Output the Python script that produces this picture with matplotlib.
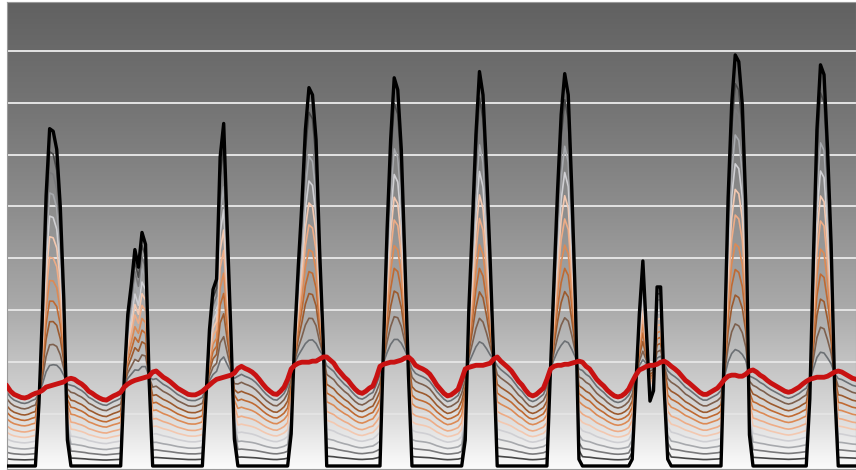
import numpy as np
import matplotlib
matplotlib.use("Agg")
import matplotlib.pyplot as plt
from matplotlib.colors import LinearSegmentedColormap

# hourly values, 10 days x 24 h
red_days = [
    [1.54, 1.44, 1.38, 1.35, 1.32, 1.31, 1.33, 1.37, 1.40, 1.42, 1.46, 1.52, 1.54, 1.56, 1.58, 1.60, 1.62, 1.67, 1.69, 1.67, 1.62, 1.58, 1.52, 1.44],
    [1.40, 1.35, 1.31, 1.28, 1.27, 1.31, 1.35, 1.38, 1.42, 1.52, 1.58, 1.62, 1.65, 1.67, 1.69, 1.71, 1.73, 1.81, 1.83, 1.77, 1.71, 1.67, 1.62, 1.56],
    [1.50, 1.46, 1.42, 1.38, 1.37, 1.37, 1.40, 1.44, 1.50, 1.56, 1.62, 1.67, 1.69, 1.71, 1.73, 1.75, 1.79, 1.88, 1.92, 1.88, 1.85, 1.81, 1.75, 1.67],
    [1.58, 1.50, 1.44, 1.39, 1.38, 1.44, 1.52, 1.67, 1.87, 1.94, 1.98, 2.00, 2.00, 2.00, 2.02, 2.02, 2.06, 2.10, 2.10, 2.04, 1.98, 1.87, 1.79, 1.71],
    [1.65, 1.56, 1.48, 1.42, 1.40, 1.44, 1.50, 1.54, 1.71, 1.92, 1.96, 1.98, 2.00, 2.00, 2.02, 2.04, 2.08, 2.10, 2.04, 1.94, 1.90, 1.87, 1.83, 1.77],
    [1.67, 1.56, 1.48, 1.40, 1.35, 1.37, 1.42, 1.48, 1.67, 1.87, 1.90, 1.92, 1.94, 1.94, 1.94, 1.96, 1.98, 2.06, 2.10, 2.02, 1.96, 1.90, 1.83, 1.73],
    [1.63, 1.56, 1.46, 1.38, 1.35, 1.38, 1.44, 1.50, 1.67, 1.87, 1.92, 1.94, 1.94, 1.96, 1.96, 1.98, 2.00, 2.02, 2.00, 1.92, 1.87, 1.77, 1.67, 1.60],
    [1.54, 1.46, 1.40, 1.35, 1.33, 1.35, 1.40, 1.48, 1.62, 1.75, 1.85, 1.88, 1.92, 1.94, 1.94, 1.96, 2.00, 2.02, 1.98, 1.92, 1.87, 1.81, 1.73, 1.65],
    [1.60, 1.54, 1.48, 1.42, 1.38, 1.38, 1.42, 1.46, 1.50, 1.58, 1.67, 1.73, 1.75, 1.75, 1.73, 1.73, 1.77, 1.83, 1.85, 1.81, 1.75, 1.71, 1.65, 1.60],
    [1.56, 1.52, 1.48, 1.44, 1.42, 1.44, 1.48, 1.52, 1.58, 1.63, 1.67, 1.69, 1.71, 1.71, 1.71, 1.73, 1.77, 1.81, 1.83, 1.81, 1.77, 1.73, 1.69, 1.67],
]

black_days = [
    [0, 0, 0, 0, 0, 0, 0, 0, 0, 1.20, 3.00, 5.20, 6.50, 6.45, 6.10, 5.00, 3.20, 0.50, 0, 0, 0, 0, 0, 0],
    [0, 0, 0, 0, 0, 0, 0, 0, 0, 1.67, 2.92, 3.50, 4.17, 3.83, 4.50, 4.27, 1.67, 0, 0, 0, 0, 0, 0, 0],
    [0, 0, 0, 0, 0, 0, 0, 0, 1.29, 2.63, 3.40, 3.60, 5.95, 6.60, 4.56, 2.63, 0.52, 0, 0, 0, 0, 0, 0, 0],
    [0, 0, 0, 0, 0, 0, 0, 0, 0.62, 2.50, 3.85, 5.04, 6.48, 7.29, 7.15, 6.29, 4.17, 2.44, 0, 0, 0, 0, 0, 0],
    [0, 0, 0, 0, 0, 0, 0, 0, 0, 0, 2.35, 4.56, 6.29, 7.48, 7.25, 6.10, 4.00, 1.77, 0, 0, 0, 0, 0, 0],
    [0, 0, 0, 0, 0, 0, 0, 0, 0, 0.50, 3.00, 4.65, 6.38, 7.60, 7.15, 5.70, 4.00, 2.06, 0, 0, 0, 0, 0, 0],
    [0, 0, 0, 0, 0, 0, 0, 0, 0, 1.87, 3.60, 5.33, 6.77, 7.56, 7.15, 5.33, 3.20, 0.13, 0, 0, 0, 0, 0, 0],
    [0, 0, 0, 0, 0, 0, 0, 0, 0.13, 1.54, 2.92, 3.95, 2.60, 1.25, 1.45, 3.45, 3.45, 1.48, 0.13, 0, 0, 0, 0, 0],
    [0, 0, 0, 0, 0, 0, 0, 0, 0, 0, 2.44, 5.17, 6.96, 7.92, 7.79, 6.96, 5.00, 0.60, 0, 0, 0, 0, 0, 0],
    [0, 0, 0, 0, 0, 0, 0, 0, 0, 0, 1.29, 4.00, 6.48, 7.73, 7.54, 6.10, 4.27, 1.48, 0, 0, 0, 0, 0, 0],
]

# share of the way from the red curve to the black curve, one per line
levels = [0.08, 0.16, 0.25, 0.33, 0.41, 0.50, 0.58, 0.66, 0.75, 0.83, 0.91]
level_colors = ["#6c7074", "#7d604e", "#9c5a2e", "#c06a32", "#dc8a55", "#eeac86",
                "#f3c8b0", "#cfcfd3", "#a7a9ad", "#7a7a7c", "#474747"]

red = np.concatenate(red_days)
black = np.concatenate(black_days)
hours = np.arange(len(red))

fig = plt.figure(figsize=(8.56, 4.70), dpi=100)
ax = fig.add_axes([7 / 856, 1 / 470, 849 / 856, 467 / 470])

ymin, ymax = -0.058, 8.94
bg = LinearSegmentedColormap.from_list(
    "bg", [(0.0, "#fbfbfb"), (0.12, "#d9d9d9"), (0.35, "#a9a9a9"),
           (0.55, "#8e8e8e"), (0.75, "#777777"), (1.0, "#616161")])
grad = np.linspace(0, 1, 256).reshape(-1, 1)
ax.imshow(grad, cmap=bg, origin="lower", aspect="auto",
          extent=[0, 239, ymin, ymax], zorder=0)

for w, c in zip(levels, level_colors):
    ax.plot(hours, red + w * (black - red), color=c, lw=1.2, zorder=2)
ax.plot(hours, black, color="black", lw=2.4, zorder=3)
ax.plot(hours, red, color="#c81212", lw=3.5, zorder=4)

ax.set_xlim(0, 239)
ax.set_ylim(ymin, ymax)
ax.set_yticks(range(1, 9))
ax.set_xticks([])
ax.grid(axis="y", color="#e4e4e4", lw=1.4)
ax.set_axisbelow(True)
ax.tick_params(left=False, labelleft=False)
for s in ax.spines.values():
    s.set_color("#9a9a9a")
    s.set_linewidth(0.8)

fig.savefig("out.png", dpi=100)
